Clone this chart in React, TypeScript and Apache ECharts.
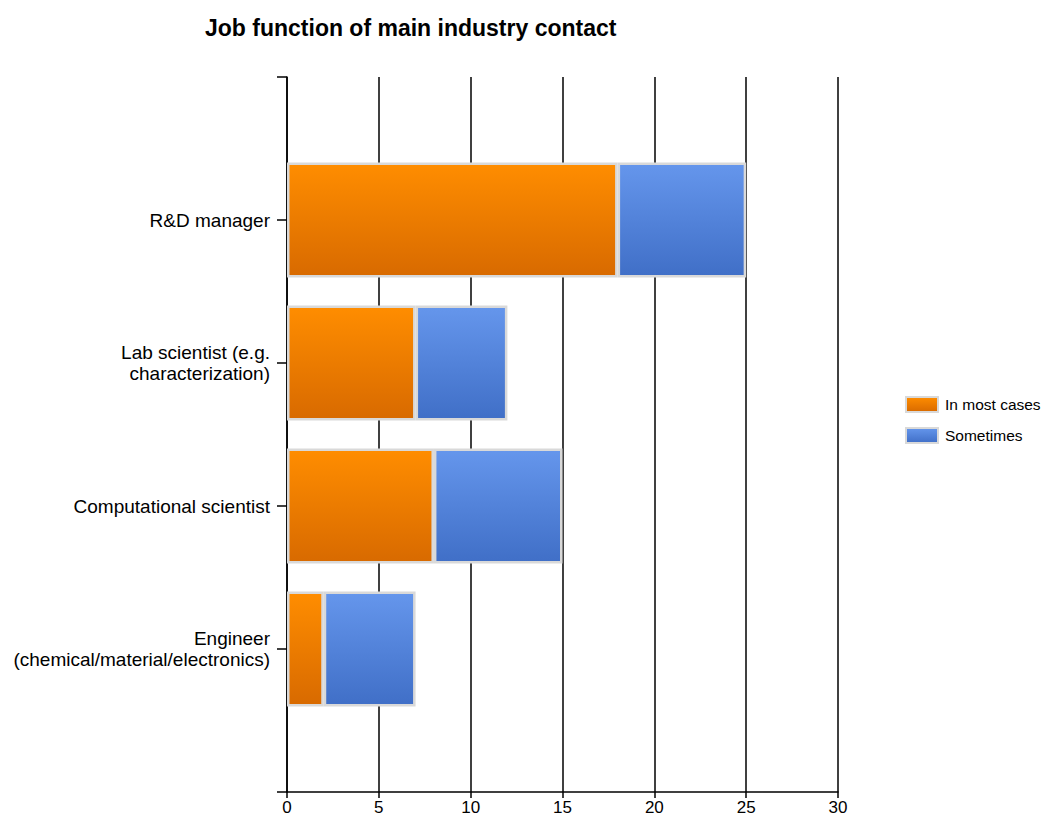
import React, { useEffect, useRef } from "react";
import * as echarts from "echarts";

const categories = [
  "",
  "R&D manager",
  "Lab scientist (e.g.\ncharacterization)",
  "Computational scientist",
  "Engineer\n(chemical/material/electronics)",
  "",
];
const inMostCases = [null, 18, 7, 8, 2, null];
const sometimes = [null, 7, 5, 7, 5, null];
const xTicks = [0, 5, 10, 15, 20, 25, 30];

const orange = new echarts.graphic.LinearGradient(0, 0, 0, 1, [
  { offset: 0, color: "#FF8D00" },
  { offset: 1, color: "#D86A00" },
]);
const blue = new echarts.graphic.LinearGradient(0, 0, 0, 1, [
  { offset: 0, color: "#6596EC" },
  { offset: 1, color: "#406FC7" },
]);

export default function App() {
  const ref = useRef<HTMLDivElement>(null);
  useEffect(() => {
    if (!ref.current) return;
    const chart = echarts.init(ref.current, undefined, { renderer: "svg" });
    const font = "'Liberation Sans', Arial, sans-serif";
    chart.setOption({
      animation: false,
      backgroundColor: "#fff",
      title: {
        text: "Job function of main industry contact",
        left: 200,
        top: 11,
        textStyle: { fontFamily: font, fontWeight: "bold", fontSize: 23, color: "#000" },
      },
      legend: {
        orient: "vertical",
        left: 905,
        top: 396,
        padding: 0,
        itemWidth: 32,
        itemHeight: 15,
        itemGap: 14,
        icon: "rect",
        textStyle: { fontFamily: font, fontSize: 15.5, color: "#000", padding: [0, 0, 0, 2] },
        data: ["In most cases", "Sometimes"],
      },
      grid: { left: 287, top: 77, right: 208, bottom: 29, containLabel: false },
      xAxis: {
        type: "value",
        min: xTicks[0],
        max: xTicks[xTicks.length - 1],
        interval: 5,
        axisLine: { show: true, lineStyle: { color: "#000", width: 1.5 } },
        axisTick: { show: true, length: 6, lineStyle: { color: "#000", width: 1.5 } },
        axisLabel: { fontFamily: font, fontSize: 17, color: "#000", margin: 7 },
        splitLine: { show: true, lineStyle: { color: "#000", width: 1.5 } },
      },
      yAxis: {
        type: "category",
        data: categories,
        inverse: true,
        boundaryGap: false,
        axisLine: { show: true, lineStyle: { color: "#000", width: 1.5 } },
        axisTick: { show: true, length: 10, lineStyle: { color: "#000", width: 1.5 } },
        axisLabel: {
          fontFamily: font,
          fontSize: 19,
          color: "#000",
          margin: 17,
          lineHeight: 21,
          align: "right",
        },
        splitLine: { show: false },
      },
      series: [
        {
          name: "In most cases",
          type: "bar",
          stack: "total",
          data: inMostCases,
          barWidth: 115,
          itemStyle: { color: orange, borderColor: "#D9D9D9", borderWidth: 2.5 },
        },
        {
          name: "Sometimes",
          type: "bar",
          stack: "total",
          data: sometimes,
          barWidth: 115,
          itemStyle: { color: blue, borderColor: "#D9D9D9", borderWidth: 2.5 },
        },
      ],
    });
    return () => chart.dispose();
  }, []);
  return (
    <div
      ref={ref}
      style={{ position: "fixed", left: 0, top: 0, width: 1046, height: 821 }}
    />
  );
}
